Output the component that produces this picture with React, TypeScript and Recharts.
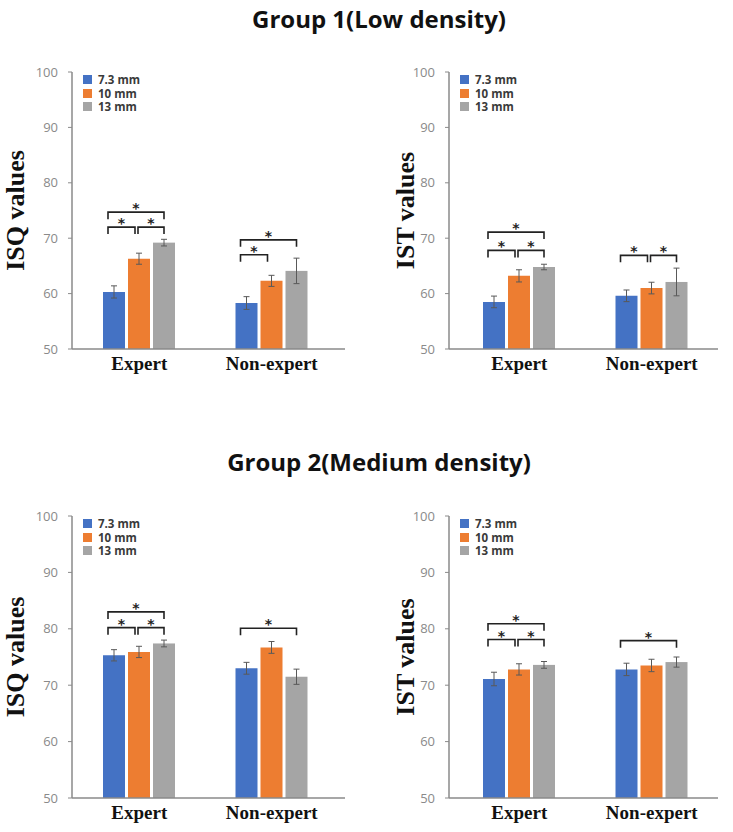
import { BarChart, Bar, XAxis, YAxis, ErrorBar, Label } from "recharts";

const categories = ["Expert", "Non-expert"];
const sizes = ["7.3 mm", "10 mm", "13 mm"];
const colors = ["#4472C4", "#ED7D31", "#A5A5A5"];
const yTicks = [50, 60, 70, 80, 90, 100];

// rows = category, columns = implant length (7.3, 10, 13 mm)
const g1IsqMean = [[60.3, 66.3, 69.2], [58.3, 62.3, 64.1]];
const g1IsqErr = [[1.1, 1.0, 0.6], [1.15, 1.0, 2.3]];
// [from, to, bracket height]
const g1IsqSig = [[[0, 2, 74.7], [0, 1, 72.0], [1, 2, 72.0]], [[0, 2, 69.7], [0, 1, 67.0]]];

const g1IstMean = [[58.5, 63.2, 64.8], [59.6, 61.0, 62.1]];
const g1IstErr = [[1.05, 1.1, 0.5], [1.05, 1.05, 2.5]];
const g1IstSig = [[[0, 2, 71.1], [0, 1, 67.8], [1, 2, 67.8]], [[0, 1, 66.9], [1, 2, 66.9]]];

const g2IsqMean = [[75.3, 75.9, 77.4], [73.0, 76.7, 71.5]];
const g2IsqErr = [[1.0, 1.0, 0.6], [1.05, 1.05, 1.35]];
const g2IsqSig = [[[0, 2, 83.0], [0, 1, 80.2], [1, 2, 80.2]], [[0, 2, 80.1]]];

const g2IstMean = [[71.1, 72.8, 73.6], [72.8, 73.5, 74.1]];
const g2IstErr = [[1.2, 1.0, 0.6], [1.1, 1.1, 0.9]];
const g2IstSig = [[[0, 2, 80.9], [0, 1, 78.1], [1, 2, 78.1]], [[0, 2, 77.9]]];

const BAR = 22;
const GAP = 3;
const AXIS = "#8a8a8a";

// gray bar shape: draws the bar and the significance brackets of its group
const bracketShape = (sig: number[][][]) => (props: any) => {
  const { x, y, width, height, fill, payload } = props;
  const ci = categories.indexOf(payload.name);
  const base = y + height;
  const ppu = height / (payload.s2 - 50);
  const py = (v: number) => base - (v - 50) * ppu;
  const cx = (k: number) => x + width / 2 - (2 - k) * (width + GAP);
  return (
    <g>
      <rect x={x} y={y} width={width} height={height} fill={fill} />
      {(sig[ci] || []).map(([a, b, v], i) => {
        const x1 = cx(a) - (a === 0 ? 6 : 1);
        const x2 = cx(b) - (b === 2 ? 0 : 4);
        const yy = py(v);
        return (
          <g key={i}>
            <path
              d={`M${x1},${yy + 7}V${yy}H${x2}V${yy + 7}`}
              fill="none"
              stroke="#222"
              strokeWidth={1.6}
            />
            <text
              x={(x1 + x2) / 2}
              y={yy + 1}
              textAnchor="middle"
              fontSize={14}
              fontWeight="bold"
              fontFamily="DejaVu Sans"
              fill="#222"
            >
              *
            </text>
          </g>
        );
      })}
    </g>
  );
};

type PanelProps = {
  left: number;
  top: number;
  width: number;
  height: number;
  mean: number[][];
  err: number[][];
  sig: number[][][];
  yLabel: string;
  labelX: number;
  pad: { left: number; right: number };
};

const Panel = ({ left, top, width, height, mean, err, sig, yLabel, labelX, pad }: PanelProps) => {
  const data = categories.map((name, i) => ({
    name,
    s0: mean[i][0],
    s1: mean[i][1],
    s2: mean[i][2],
    e0: err[i][0],
    e1: err[i][1],
    e2: err[i][2],
  }));
  const mTop = 32;
  return (
    <div style={{ position: "absolute", left, top }}>
      <BarChart
        width={width}
        height={height}
        data={data}
        margin={{ top: mTop, right: 15, bottom: 0, left: 0 }}
        barSize={BAR}
        barGap={GAP}
      >
        <XAxis
          dataKey="name"
          height={30}
          padding={pad}
          axisLine={{ stroke: AXIS, strokeWidth: 1.5 }}
          tickLine={false}
          tickSize={6}
          tickMargin={2}
          tick={{ fontSize: 19, fontWeight: "bold", fontFamily: "Liberation Serif", fill: "#111" }}
        />
        <YAxis
          type="number"
          domain={[50, 100]}
          ticks={yTicks}
          width={72}
          allowDataOverflow
          axisLine={{ stroke: AXIS, strokeWidth: 1.5 }}
          tickLine={{ stroke: AXIS }}
          tickSize={4}
          tickMargin={10}
          tick={{ fontSize: 13, fontFamily: "Open Sans", fill: "#8a8a8a" }}
        >
          <Label
            content={(p: any) => {
              const vb = p.viewBox;
              const cy = vb.y + vb.height / 2;
              return (
                <text
                  x={labelX}
                  y={cy}
                  transform={`rotate(-90, ${labelX}, ${cy})`}
                  textAnchor="middle"
                  fontSize={26}
                  fontWeight="bold"
                  fontFamily="Liberation Serif"
                  fill="#111"
                >
                  {yLabel}
                </text>
              );
            }}
          />
        </YAxis>
        <Bar dataKey="s0" fill={colors[0]} isAnimationActive={false}>
          <ErrorBar dataKey="e0" width={3} stroke="#595959" strokeWidth={1} />
        </Bar>
        <Bar dataKey="s1" fill={colors[1]} isAnimationActive={false}>
          <ErrorBar dataKey="e1" width={3} stroke="#595959" strokeWidth={1} />
        </Bar>
        <Bar dataKey="s2" fill={colors[2]} isAnimationActive={false} shape={bracketShape(sig)}>
          <ErrorBar dataKey="e2" width={3} stroke="#595959" strokeWidth={1} />
        </Bar>
      </BarChart>
      <div style={{ position: "absolute", left: 83, top: mTop + 1 }}>
        {sizes.map((s, i) => (
          <div
            key={s}
            style={{
              display: "flex",
              alignItems: "center",
              height: 13.5,
              fontFamily: "Open Sans",
              fontWeight: "bold",
              fontSize: 11.5,
              color: "#3a3a3a",
            }}
          >
            <span style={{ width: 9, height: 9, background: colors[i], marginRight: 6 }} />
            {s}
          </div>
        ))}
      </div>
    </div>
  );
};

const titleStyle: React.CSSProperties = {
  position: "absolute",
  left: 0,
  width: 758,
  textAlign: "center",
  fontFamily: "Open Sans",
  fontWeight: "bold",
  fontSize: 24,
  color: "#111",
};

export default function App() {
  return (
    <div style={{ position: "absolute", left: 0, top: 0, width: 733, height: 832, background: "#fff", overflow: "hidden" }}>
      <div style={{ ...titleStyle, top: 2 }}>Group 1(Low density)</div>
      <div style={{ ...titleStyle, top: 445 }}>Group 2(Medium density)</div>
      <Panel left={0} top={40} width={360} height={339} mean={g1IsqMean} err={g1IsqErr} sig={g1IsqSig}
        yLabel="ISQ values" labelX={24} pad={{ left: 1, right: 7 }} />
      <Panel left={377} top={40} width={356} height={339} mean={g1IstMean} err={g1IstErr} sig={g1IstSig}
        yLabel="IST values" labelX={37} pad={{ left: 4, right: 0 }} />
      <Panel left={0} top={484} width={360} height={344} mean={g2IsqMean} err={g2IsqErr} sig={g2IsqSig}
        yLabel="ISQ values" labelX={24} pad={{ left: 1, right: 7 }} />
      <Panel left={377} top={484} width={356} height={344} mean={g2IstMean} err={g2IstErr} sig={g2IstSig}
        yLabel="IST values" labelX={37} pad={{ left: 4, right: 0 }} />
    </div>
  );
}
